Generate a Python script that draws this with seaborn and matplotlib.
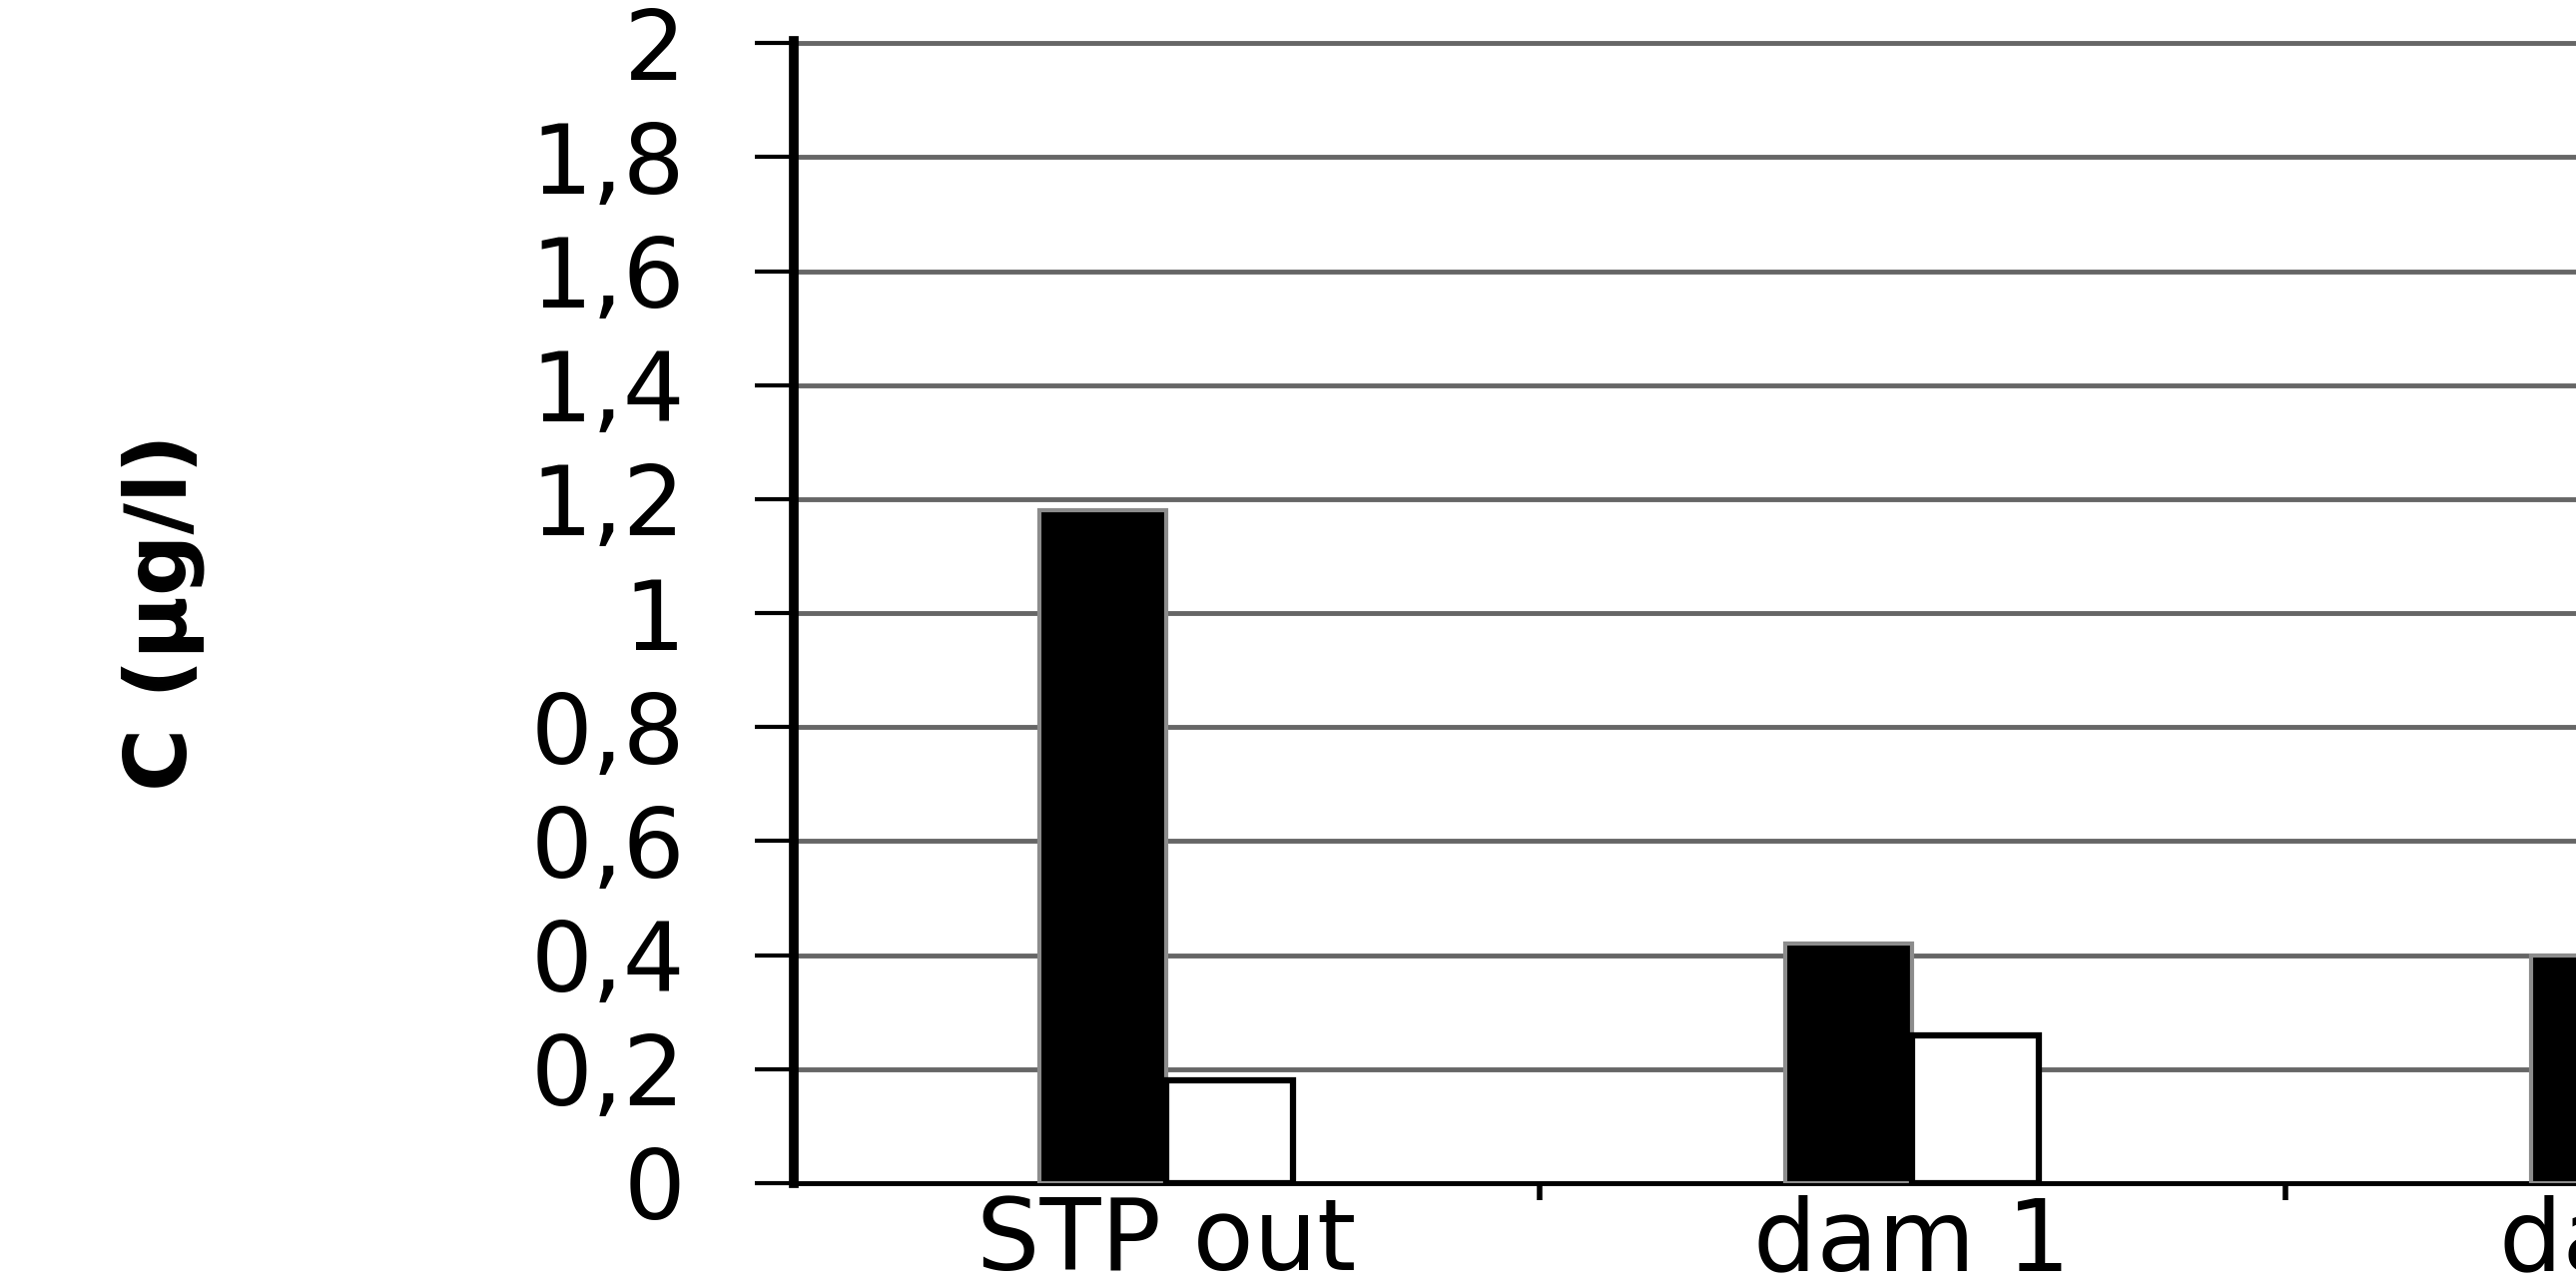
import numpy as np
import pandas as pd
import matplotlib
matplotlib.use("Agg")
import matplotlib.pyplot as plt
import seaborn as sns

sites = ["STP out", "dam 1", "dam 2"]
black_vals = [1.18, 0.42, 0.40]
white_vals = [0.18, 0.26, np.nan]  # third white bar is outside the crop
series = ["series 1", "series 2"]
ytick_vals = [0, 0.2, 0.4, 0.6, 0.8, 1, 1.2, 1.4, 1.6, 1.8, 2]
ytick_labels = ["0", "0,2", "0,4", "0,6", "0,8", "1", "1,2", "1,4", "1,6", "1,8", "2"]

df = pd.DataFrame({
    "site": sites * 2,
    "C": black_vals + white_vals,
    "series": [series[0]] * 3 + [series[1]] * 3,
})

sns.set_style("white")
plt.rcParams["font.family"] = ["DejaVu Sans"]
plt.rcParams["text.color"] = "black"
plt.rcParams["xtick.color"] = "black"
plt.rcParams["ytick.color"] = "black"
plt.rcParams["axes.labelcolor"] = "black"

fig = plt.figure(figsize=(25.8, 12.89), dpi=100)
ax = fig.add_axes([0.308, 0.0807, 0.692, 0.8875])

sns.barplot(data=df, x="site", y="C", hue="series", order=sites, hue_order=series,
            palette=["black", "white"], saturation=1, width=0.34, gap=0,
            edgecolor="black", linewidth=4.5, legend=False, ax=ax, zorder=3)

# black bars get a grey outline like in the scan
for p in ax.patches[:len(sites)]:
    p.set_edgecolor("#8c8c8c")
    p.set_linewidth(3)

# y axis
ax.set_yticks(ytick_vals)
ax.set_yticklabels(ytick_labels, fontsize=70)
ax.tick_params(axis="y", left=True, direction="out", length=28, width=3, pad=50)
ax.yaxis.grid(True, color="#666666", linewidth=3.5)
ax.set_axisbelow(True)

# x axis: ticks between categories, labels at the centres
ax.set_xticks([0.5, 1.5])
ax.set_xticklabels(["", ""])
ax.tick_params(axis="x", which="major", bottom=True, direction="out", length=12, width=4)
ax.set_xticks([0, 1], minor=True)
ax.set_xticklabels(sites[:2], minor=True, fontsize=72)
ax.tick_params(axis="x", which="minor", bottom=True, length=0, pad=8)
ax.set_xlabel("")

# the chart is cropped on the right, so the last label runs off the edge
ax.annotate(sites[2], xy=(2, 0), xycoords=ax.get_xaxis_transform(),
            xytext=(0, -8), textcoords="offset points", ha="center", va="top",
            fontsize=72, annotation_clip=False)

ax.set_xlim(-0.5, 1.89)
ax.set_ylim(0, 2.004)

ax.set_ylabel("C (µg/l)", fontsize=62, fontweight="bold")
ax.yaxis.set_label_coords(-0.33, 0.5)

for s in ["top", "right"]:
    ax.spines[s].set_visible(False)
ax.spines["left"].set_linewidth(7)
ax.spines["left"].set_color("black")
ax.spines["bottom"].set_linewidth(3.5)
ax.spines["bottom"].set_color("black")

fig.savefig("out.png", dpi=100)
